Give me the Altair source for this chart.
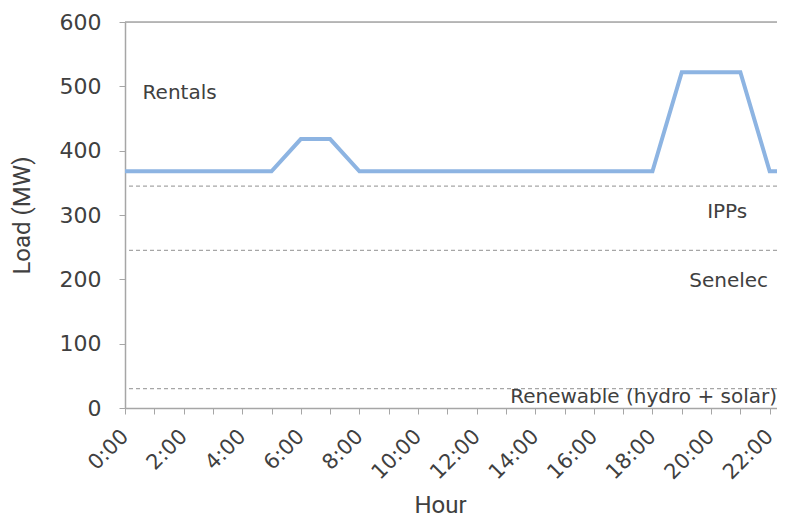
import altair as alt
import pandas as pd

hours = list(range(24))
load = [368, 368, 368, 368, 368, 368, 418, 418, 368, 368, 368, 368,
        368, 368, 368, 368, 368, 368, 368, 522, 522, 522, 368, 368]

level_names = ["IPPs", "Senelec", "Renewable"]
level_values = [345, 245, 30]

label_texts = ["Rentals", "IPPs", "Senelec", "Renewable (hydro + solar)"]
label_x = [0.6, 20.55, 20.6, 22.25]
label_y = [490, 305, 197, 17]
label_align = ["left", "center", "center", "right"]

NUMFONT = "DejaVu Sans"
TFONT = "Roboto"
GREY = "#a6a6a6"
TXT = "#404040"
XMAX = 22.25

line_df = pd.DataFrame({"hour": hours, "load": load})
lvl_df = pd.DataFrame({"name": level_names, "value": level_values})
lab_df = pd.DataFrame({"text": label_texts, "x": label_x, "y": label_y, "align": label_align})

xscale = alt.Scale(domain=[0, XMAX], nice=False, zero=False)
yscale = alt.Scale(domain=[0, 600], nice=False)

xaxis = alt.Axis(
    values=list(range(23)),
    labelExpr="datum.value % 2 == 0 ? datum.value + ':00' : ''",
    labelAngle=-45, labelFontSize=21, labelColor=TXT, labelFont=NUMFONT,
    labelAlign="right", labelBaseline="middle",
    grid=False, domainColor=GREY, tickColor=GREY, tickSize=6, domainWidth=1.5,
    title="Hour", titleFontSize=24, titleFontWeight="normal", titleColor=TXT,
    titleFont=TFONT, titleX=315, titleY=97, titleBaseline="middle", titleAlign="center",
    labelPadding=19, labelOverlap=False, labelBound=False, labelFlush=False,
)
yaxis = alt.Axis(
    values=[0, 100, 200, 300, 400, 500, 600],
    labelFontSize=22, labelColor=TXT, labelFont=NUMFONT, labelPadding=18,
    grid=False, domainColor=GREY, tickColor=GREY, tickSize=6, domainWidth=1.5,
    title="Load (MW)", titleFontSize=24, titleFontWeight="normal", titleColor=TXT,
    titleFont=TFONT, titleX=-103, titleY=193, titleBaseline="middle", titleAlign="center",
    labelFlush=False,
)

top = alt.Chart(pd.DataFrame({"v": [600]})).mark_rule(color=GREY, strokeWidth=1.5).encode(
    y=alt.Y("v:Q", scale=yscale, axis=yaxis)
)

rules = alt.Chart(lvl_df).mark_rule(color=GREY, strokeDash=[4, 3], strokeWidth=1.3).encode(
    y=alt.Y("value:Q", scale=yscale, axis=yaxis)
)

line = alt.Chart(line_df).mark_line(color="#8db4e2", strokeWidth=4, clip=True).encode(
    x=alt.X("hour:Q", scale=xscale, axis=xaxis),
    y=alt.Y("load:Q", scale=yscale, axis=yaxis),
)

def lab(i):
    d = lab_df.iloc[[i]]
    return alt.Chart(d).mark_text(
        align=label_align[i], baseline="middle", fontSize=20, color=TXT, font=NUMFONT
    ).encode(
        x=alt.X("x:Q", scale=xscale, axis=xaxis),
        y=alt.Y("y:Q", scale=yscale, axis=yaxis),
        text="text:N",
    )

chart = alt.layer(top, rules, line, *[lab(i) for i in range(4)]).properties(
    width=652, height=386,
    autosize=alt.AutoSizeParams(type="none"),
    padding={"left": 117, "top": 14, "right": 0, "bottom": 113},
).configure_view(stroke=None).configure(background="white")

chart.save("out.html", embed_options={"renderer": "svg", "actions": False})
